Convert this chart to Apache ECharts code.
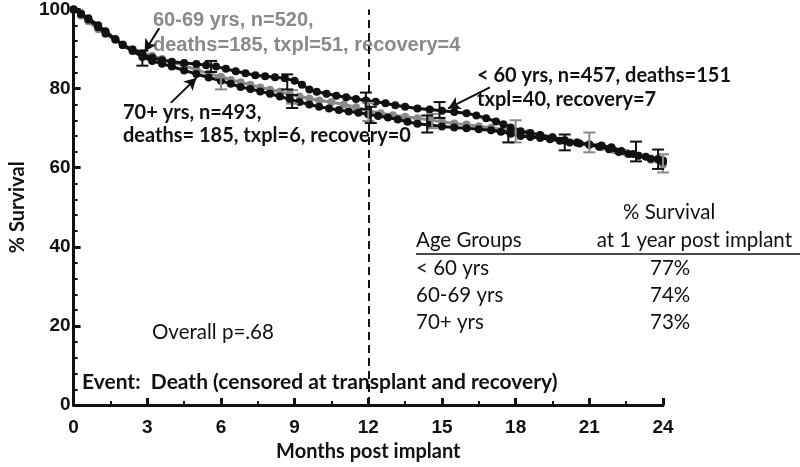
<!DOCTYPE html>
<html><head><meta charset="utf-8">
<script src="https://cdn.jsdelivr.net/npm/echarts@6/dist/echarts.min.js"></script>
<style>html,body{margin:0;padding:0;background:#fff}#c{width:800px;height:467px}</style>
</head><body><div id="c"></div>
<script>
// months and % survival, <60 yrs
const under60 = [[0,100],[0.3,99],[0.6,97.8],[1.0,96],[1.3,94.5],[1.7,92.5],[2.0,91],[2.4,89.8],[2.8,88.6],[3.2,87.8],[3.6,87.2],[4.0,86.8],[4.5,86.5],[5.0,86.2],[5.4,85.9],[5.8,85.6],[6.2,85.0],[6.6,84.4],[7.0,83.9],[7.4,83.4],[7.8,83.1],[8.2,82.9],[8.6,82.6],[9.0,82.0],[9.3,81.0],[9.6,79.8],[9.9,79.2],[10.3,78.7],[10.7,78.2],[11.1,77.8],[11.5,77.4],[11.9,77.0],[12.3,76.7],[12.7,76.3],[13.1,75.8],[13.5,75.4],[14.0,75.0],[14.5,74.7],[15.0,74.4],[15.5,74.1],[16.0,73.8],[16.4,73.2],[16.8,72.5],[17.2,71.7],[17.5,71.0],[17.8,70.2],[18.2,69.2],[18.6,68.8],[19.0,68.3],[19.5,67.7],[20.0,66.9],[20.5,66.3],[21.0,65.9],[21.5,65.6],[21.9,65.2],[22.3,64.2],[22.8,63.5],[23.3,62.8],[23.8,62.2],[24.0,61.8]];
// 60-69 yrs
const age6069 = [[0,100],[0.3,98.5],[0.6,97],[1.0,95],[1.3,93.8],[1.7,92.3],[2.0,91.2],[2.4,90],[2.8,89],[3.2,88.3],[3.6,87.5],[4.0,86.7],[4.5,85.8],[5.0,84.8],[5.5,83.8],[6.0,83],[6.4,82.2],[6.8,81.6],[7.2,81],[7.6,80.3],[8.0,79.7],[8.4,79.2],[8.8,78.6],[9.2,78],[9.6,77.5],[10.0,77],[10.5,76.6],[11.0,76],[11.5,75.3],[12.0,74.4],[12.5,73.8],[13.0,73.3],[13.5,72.9],[14.0,72.5],[14.5,72.1],[15.0,71.6],[15.5,71.2],[16.0,70.9],[16.5,70.5],[17.0,70.1],[17.5,69.6],[18.0,69.2],[18.5,68.7],[19.0,68.2],[19.5,67.7],[20.0,67.1],[20.5,66.5],[21.0,65.9],[21.5,65.2],[22.0,64.5],[22.5,63.8],[23.0,63.0],[23.5,62.0],[24.0,60.8]];
// 70+ yrs
const age70plus = [[0,100],[0.3,98.8],[0.6,97.5],[1.0,95.5],[1.3,94],[1.7,92.5],[2.0,91],[2.4,89.5],[2.8,88],[3.2,87],[3.6,86.3],[4.0,85.6],[4.5,84.6],[5.0,83.7],[5.5,82.8],[6.0,82],[6.4,81.2],[6.8,80.4],[7.2,79.9],[7.6,79.3],[8.0,78.7],[8.4,78.0],[8.8,77.3],[9.2,76.6],[9.6,76.0],[10.0,75.4],[10.4,75.0],[10.8,74.6],[11.2,74.2],[11.6,73.9],[12.0,73.5],[12.4,73.1],[12.8,72.7],[13.2,72.2],[13.6,71.6],[14.0,71.1],[14.5,70.8],[15.0,70.4],[15.5,70.2],[16.0,70.0],[16.5,69.7],[17.0,69.5],[17.4,69.1],[17.8,68.6],[18.2,68.0],[18.6,67.8],[19.0,67.5],[19.4,67.2],[19.8,66.8],[20.2,66.4],[20.6,66.1],[21.0,65.8],[21.4,65.3],[21.8,64.7],[22.2,64.0],[22.6,63.5],[23.0,63.0],[23.5,62.3],[24.0,61.5]];
// error bars [month, low, high]
const errUnder60 = [[5.6,84.2,87.0],[8.7,79.8,83.6],[11.9,74.8,79.0],[14.9,72.6,76.6],[20.0,64.4,68.4],[22.9,61.6,66.6]];
const err6069 = [[6.0,79.8,82.8],[8.9,76.2,79.6],[12.0,71.8,76.4],[14.6,70.0,73.6],[18.0,66.4,72.0],[21.0,63.9,68.9],[24.0,58.8,63.4]];
const err70plus = [[2.8,85.8,89.6],[8.9,75.1,78.4],[12.1,71.3,75.4],[14.4,68.9,73.2],[17.7,66.4,69.2],[23.8,59.7,64.6]];
const xTicks = [0,3,6,9,12,15,18,21,24];
const yTicks = [0,20,40,60,80,100];
const ageGroups = ['< 60 yrs','60-69 yrs','70+ yrs'];
const survival1yr = ['77%','74%','73%'];

const BLACK = '#111', GRAY = '#8a8a8a';
const chart = echarts.init(document.getElementById('c'));

function errSeries(data, color){
  return {
    type:'custom', data:data, z:5,
    renderItem:function(params, api){
      const x = api.value(0);
      const lo = api.coord([x, api.value(1)]);
      const hi = api.coord([x, api.value(2)]);
      const w = 6;
      const st = {stroke:color, lineWidth:2};
      return {type:'group', children:[
        {type:'line', shape:{x1:lo[0],y1:lo[1],x2:hi[0],y2:hi[1]}, style:st},
        {type:'line', shape:{x1:lo[0]-w,y1:lo[1],x2:lo[0]+w,y2:lo[1]}, style:st},
        {type:'line', shape:{x1:hi[0]-w,y1:hi[1],x2:hi[0]+w,y2:hi[1]}, style:st}
      ]};
    }
  };
}
function kmSeries(data, color, z){
  return {type:'line', data:data, z:z, symbol:'circle', symbolSize:8, showSymbol:true,
    lineStyle:{color:color, width:3}, itemStyle:{color:color, borderWidth:0}, animation:false};
}
const arrowLine = {color:BLACK, width:2, type:'solid'};
const BF = 'Lato';
const REG = '20.5px ' + BF;
const tStyle = (x,y,text,opt) => Object.assign({type:'text', left:x, top:y, style:Object.assign({text:text, fill:BLACK, font:'bold 20px '+BF}, opt||{})});

chart.setOption({
  animation:false,
  grid:{left:57, right:137, top:8, bottom:57},
  xAxis:{type:'value', min:0, max:24, interval:3,
    name:'Months post implant', nameLocation:'middle', nameGap:35,
    nameTextStyle:{fontFamily:BF, fontWeight:'bold', fontSize:20, color:BLACK},
    axisLine:{lineStyle:{color:BLACK, width:3}},
    axisTick:{inside:true, length:7, lineStyle:{color:BLACK, width:3}},
    minorTick:{show:true, splitNumber:2, length:4, lineStyle:{color:BLACK, width:2}},
    splitLine:{show:false},
    axisLabel:{margin:13, fontFamily:'Liberation Sans', fontWeight:'bold', fontSize:19, color:BLACK,
      formatter:v=>xTicks.includes(v)?String(v):''}},
  yAxis:{type:'value', min:0, max:100, interval:20,
    name:'% Survival', nameLocation:'middle', nameGap:36,
    nameTextStyle:{fontFamily:BF, fontWeight:'bold', fontSize:20, color:BLACK},
    axisLine:{show:true, lineStyle:{color:BLACK, width:3}},
    axisTick:{show:true, inside:true, length:7, lineStyle:{color:BLACK, width:3}},
    minorTick:{show:true, splitNumber:5, length:4, lineStyle:{color:BLACK, width:2}},
    splitLine:{show:false},
    axisLabel:{margin:3, fontFamily:'Liberation Sans', fontWeight:'bold', fontSize:19, color:BLACK,
      formatter:v=>yTicks.includes(v)?String(v):''}},
  series:[
    kmSeries(age6069, GRAY, 2),
    kmSeries(age70plus, BLACK, 3),
    Object.assign(kmSeries(under60, BLACK, 4), {
      markLine:{silent:true, symbol:['none','arrow'], symbolSize:[10,12], label:{show:false},
        lineStyle:arrowLine,
        data:[
          [{coord:[3.49,95.3]},{coord:[2.89,89.4]}],
          [{coord:[3.96,76.4]},{coord:[5.0,82.7]}],
          [{coord:[16.95,80.3]},{coord:[15.25,75.0]}]
        ]}
    }),
    errSeries(err6069, GRAY),
    errSeries(err70plus, BLACK),
    errSeries(errUnder60, BLACK),
    {type:'line', data:[], markLine:{silent:true, symbol:'none', label:{show:false},
      lineStyle:{color:BLACK, width:2, type:[8,5]}, data:[{xAxis:12}]}}
  ],
  graphic:[
    tStyle(153,10,'60-69 yrs, n=520,',{fill:GRAY, font:'bold 20px "Liberation Sans"'}),
    tStyle(153,35,'deaths=185, txpl=51, recovery=4',{fill:GRAY, font:'bold 20px "Liberation Sans"'}),
    tStyle(123,103,'70+ yrs, n=493,'),
    tStyle(123,126,'deaths= 185, txpl=6, recovery=0'),
    tStyle(477,66,'< 60 yrs, n=457, deaths=151'),
    tStyle(477,90,'txpl=40, recovery=7'),
    tStyle(82,372,'Event:  Death (censored at transplant and recovery)',{font:'bold 21px '+BF}),
    tStyle(152,322,'Overall p=.68',{font:REG}),
    tStyle(623,202,'% Survival',{font:REG}),
    tStyle(416,230,'Age Groups',{font:REG}),
    {type:'text', right:8, top:230, style:{text:'at 1 year post implant', fill:BLACK, font:REG}},
    {type:'line', shape:{x1:416,y1:254,x2:800,y2:254}, style:{stroke:BLACK, lineWidth:1.5}},
    tStyle(416,258,ageGroups[0],{font:REG}),
    tStyle(416,285,ageGroups[1],{font:REG}),
    tStyle(416,312,ageGroups[2],{font:REG}),
    tStyle(650,258,survival1yr[0],{font:REG}),
    tStyle(650,285,survival1yr[1],{font:REG}),
    tStyle(650,312,survival1yr[2],{font:REG})
  ]
});
</script></body></html>
